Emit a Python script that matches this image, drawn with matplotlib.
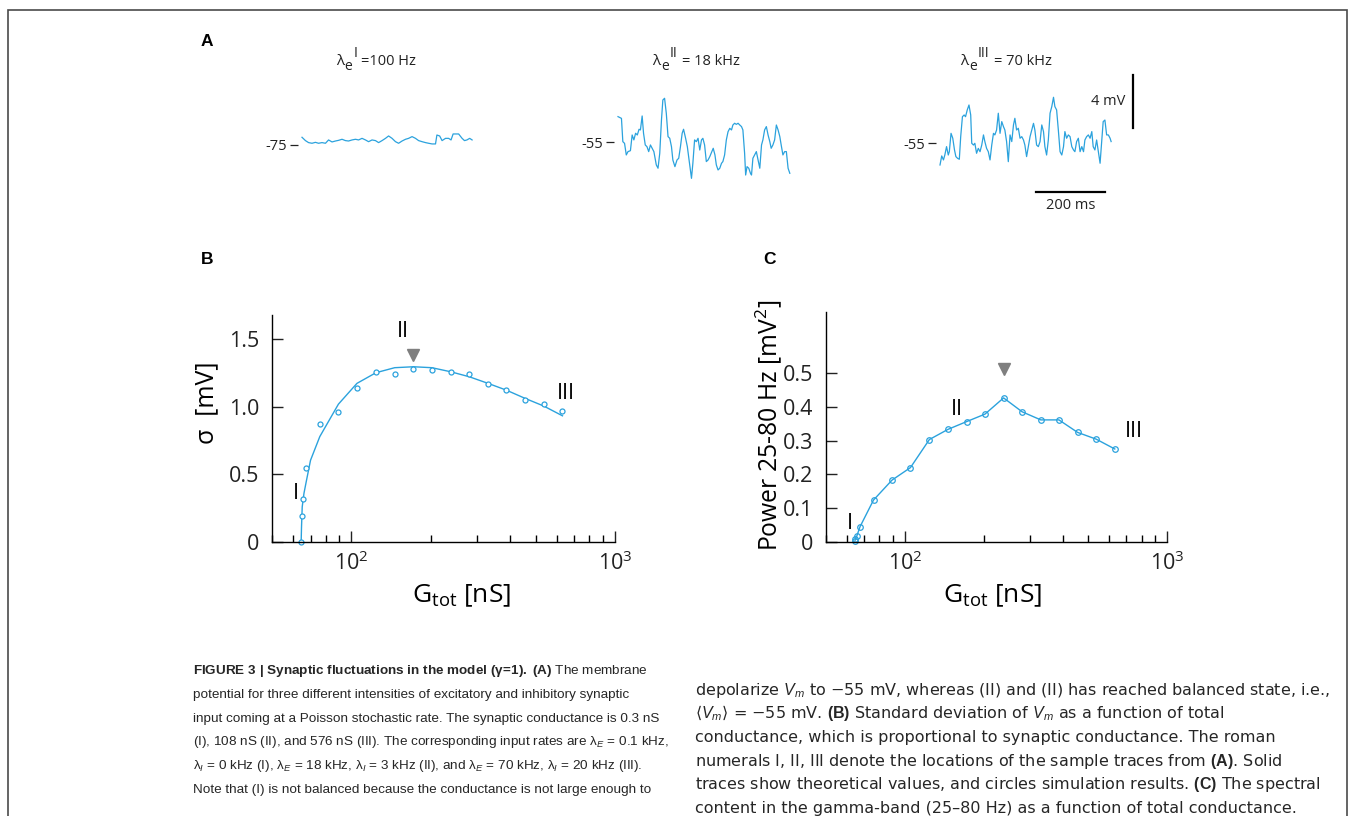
import matplotlib
matplotlib.use("Agg")
import matplotlib.pyplot as plt
import numpy as np
from matplotlib.patches import Rectangle

# ---- panel A: sample membrane potential traces (t in ms, Vm in mV) ----
trace1_t = [0, 10, 19, 29, 39, 48, 58, 68, 77, 87, 97, 106, 116, 126, 135, 145, 155, 164, 174, 184,
            193, 203, 213, 222, 232, 242, 251, 261, 271, 280, 290, 300, 309, 319, 329, 338, 348, 358, 367, 377,
            387, 391, 399, 406, 416, 425, 432, 438, 444, 454, 464, 471, 478, 486, 493]
trace1_v = [-74.42, -74.67, -74.82, -74.87, -74.80, -74.87, -74.82, -74.87, -74.62, -74.77,
            -74.70, -74.65, -74.57, -74.67, -74.70, -74.62, -74.57, -74.62, -74.50, -74.62,
            -74.75, -74.62, -74.67, -74.82, -74.67, -74.50, -74.32, -74.50, -74.75, -74.87,
            -74.70, -74.57, -74.50, -74.37, -74.50, -74.67, -74.75, -74.82, -74.87, -74.92,
            -74.92, -74.25, -74.32, -74.67, -74.50, -74.50, -74.62, -74.17, -74.17, -74.17,
            -74.50, -74.67, -74.62, -74.50, -74.62]

trace2_t = [0, 10, 14, 19, 24, 29, 36, 41, 46, 51, 56, 61, 65, 70, 74, 79, 84, 89, 94, 99,
            104, 111, 116, 121, 126, 130, 135, 140, 145, 150, 155, 159, 165, 171, 176, 181, 186, 190, 196, 201,
            206, 213, 217, 222, 227, 232, 237, 242, 246, 251, 256, 261, 266, 272, 276, 281, 285, 290, 295, 300,
            304, 309, 314, 319, 324, 329, 333, 338, 343, 348, 353, 358, 362, 367, 370, 374, 379, 384, 387, 391,
            396, 401, 406, 411, 416, 420, 425, 430, 435, 440, 444, 449, 454, 459, 464, 469, 473, 478, 483, 488,
            493, 498]
trace2_v = [-53.07, -53.20, -54.95, -55.08, -55.95, -55.70, -55.63, -54.45, -54.82, -54.32,
            -54.45, -54.02, -54.07, -53.02, -54.32, -55.20, -55.33, -55.70, -55.20, -55.45,
            -55.70, -56.70, -56.95, -55.83, -53.32, -51.82, -51.69, -52.82, -54.57, -54.70,
            -55.33, -56.33, -56.83, -56.33, -56.20, -55.33, -54.32, -54.02, -54.70, -55.33,
            -56.33, -57.71, -56.58, -54.82, -54.95, -54.70, -55.58, -54.82, -54.70, -55.20,
            -56.45, -56.33, -56.08, -55.70, -55.45, -55.95, -56.70, -57.08, -56.95, -56.58,
            -56.45, -55.95, -54.82, -54.20, -53.95, -54.07, -53.70, -53.57, -53.65, -53.57,
            -53.70, -53.82, -54.07, -55.83, -57.46, -56.83, -56.95, -57.33, -57.46, -56.20,
            -55.95, -55.70, -56.33, -56.95, -55.20, -54.82, -54.07, -53.82, -54.45, -54.95,
            -55.45, -55.20, -54.82, -53.70, -54.07, -54.57, -55.20, -55.95, -55.70, -55.70,
            -56.95, -57.33]

trace3_t = [0, 5, 10, 14, 19, 24, 27, 32, 37, 42, 46, 51, 56, 60, 65, 70, 74, 79, 84, 89,
            92, 97, 101, 106, 111, 116, 121, 126, 130, 135, 140, 145, 150, 155, 159, 164, 169, 174, 179, 184,
            188, 193, 198, 203, 208, 213, 217, 222, 227, 232, 237, 242, 246, 251, 256, 261, 266, 271, 275, 280,
            285, 290, 295, 300, 304, 309, 314, 319, 324, 329, 333, 338, 343, 348, 353, 358, 362, 367, 372, 377,
            382, 387, 391, 396, 401, 406, 411, 416, 420, 425, 430, 435, 440, 444, 449, 454, 459, 464, 469, 473,
            478, 483, 488, 493, 496]
trace3_v = [-56.63, -55.95, -56.25, -55.88, -55.25, -55.88, -55.63, -54.25, -54.62, -55.50,
            -56.00, -56.13, -56.20, -54.50, -53.00, -52.87, -53.00, -52.49, -52.12, -52.87,
            -55.00, -55.13, -55.00, -55.75, -55.38, -55.63, -55.13, -54.37, -54.87, -55.38,
            -55.63, -56.25, -55.13, -54.25, -54.37, -54.00, -52.74, -54.25, -53.37, -53.75,
            -54.00, -54.87, -56.38, -54.37, -54.87, -53.62, -53.12, -54.00, -53.87, -54.62,
            -54.50, -54.75, -55.13, -56.00, -55.25, -54.50, -54.00, -53.50, -54.00, -55.13,
            -55.25, -54.87, -53.62, -54.12, -55.25, -55.88, -54.75, -52.74, -52.24, -51.54,
            -52.24, -52.49, -54.00, -55.63, -55.88, -55.25, -54.12, -54.62, -54.37, -54.50,
            -55.25, -55.50, -55.63, -54.87, -54.62, -55.63, -55.25, -55.63, -54.75, -54.50,
            -54.37, -54.62, -54.12, -55.25, -55.50, -54.75, -55.63, -56.50, -54.75, -53.37,
            -53.25, -54.37, -54.37, -54.62, -54.87]

trace_numerals = ["I", "II", "III"]
trace_rates = ["=100 Hz", "= 18 kHz", "= 70 kHz"]
trace_bases = [-75, -55, -55]
trace_base_labels = ["-75", "-55", "-55"]

# ---- panels B and C: total conductance (nS) ----
g_sim = [64.5, 64.7, 65.5, 67.4, 75.9, 89.3, 105, 124, 146, 172, 202, 238, 280, 330, 387, 456, 537, 632]
sigma_sim = [0.0, 0.19, 0.32, 0.55, 0.87, 0.96, 1.14, 1.255, 1.245, 1.277, 1.273, 1.255, 1.243,
             1.166, 1.127, 1.05, 1.018, 0.971]
g_theory = [64.5, 64.7, 65.1, 66.1, 67.4, 70.0, 75.9, 89.3, 105, 124, 146, 172, 202, 238, 280,
            330, 387, 456, 537, 632]
sigma_theory = [0.0, 0.11, 0.26, 0.36, 0.445, 0.605, 0.78, 1.02, 1.174, 1.253, 1.29, 1.297, 1.29,
                1.26, 1.223, 1.174, 1.124, 1.063, 1.006, 0.934]
power_sim = [0.003, 0.01, 0.017, 0.045, 0.124, 0.183, 0.22, 0.303, 0.333, 0.356, 0.378, 0.426,
             0.385, 0.361, 0.361, 0.324, 0.304, 0.275]

caption_left = [
    r"$\mathbf{FIGURE\ 3\ |\ Synaptic\ fluctuations\ in\ the\ model\ (\gamma\!=\!1).\ (A)}$ The membrane",
    "potential for three different intensities of excitatory and inhibitory synaptic",
    "input coming at a Poisson stochastic rate. The synaptic conductance is 0.3 nS",
    r"(I), 108 nS (II), and 576 nS (III). The corresponding input rates are λ$_E$ = 0.1 kHz,",
    r"λ$_I$ = 0 kHz (I), λ$_E$ = 18 kHz, λ$_I$ = 3 kHz (II), and λ$_E$ = 70 kHz, λ$_I$ = 20 kHz (III).",
    "Note that (I) is not balanced because the conductance is not large enough to",
]
caption_right = [
    r"depolarize $V_m$ to −55 mV, whereas (II) and (II) has reached balanced state, i.e.,",
    r"⟨$V_m$⟩ = −55 mV. $\mathbf{(B)}$ Standard deviation of $V_m$ as a function of total",
    "conductance, which is proportional to synaptic conductance. The roman",
    r"numerals I, II, III denote the locations of the sample traces from $\mathbf{(A)}$. Solid",
    r"traces show theoretical values, and circles simulation results. $\mathbf{(C)}$ The spectral",
    "content in the gamma-band (25–80 Hz) as a function of total conductance.",
]

W, H = 1354, 816
BLUE = "#2ba2dd"
GRAY = "#7f7f7f"
INK = "#222222"
PX_PER_MV = 13.3
PX_PER_MS = 0.345

plt.rcParams["font.family"] = ["Open Sans", "DejaVu Sans"]
plt.rcParams["mathtext.fontset"] = "custom"
plt.rcParams["mathtext.rm"] = "Open Sans"
plt.rcParams["mathtext.it"] = "Liberation Sans:italic"
plt.rcParams["mathtext.bf"] = "Liberation Sans:bold"


def fx(px):
    return px / W


def fy(py):
    return 1 - py / H


def add_axes_px(left, top, right, bottom):
    return fig.add_axes([fx(left), fy(bottom), (right - left) / W, (bottom - top) / H])


fig = plt.figure(figsize=(W / 100, H / 100), dpi=100)
renderer = fig.canvas.get_renderer()


def text_px(x, y, s, **kw):
    t = fig.text(fx(x), fy(y), s, va="baseline", ha="left", color=INK, **kw)
    return t, t.get_window_extent(renderer).width


def rate_title(xc, y, numeral, rate):
    # lambda with subscript "e" and superscript roman numeral, then the rate
    t1, w1 = text_px(0, y, "λ", fontsize=11)
    t2, w2 = text_px(0, y + 5, "e", fontsize=10)
    t3, w3 = text_px(0, y - 8, numeral, fontsize=10)
    t4, w4 = text_px(0, y, rate, fontsize=10.5)
    gap = 4
    total = w1 + 0.5 + w2 + 1 + w3 + gap + w4
    x0 = xc - total / 2
    t1.set_x(fx(x0))
    t2.set_x(fx(x0 + w1 + 0.5))
    t3.set_x(fx(x0 + w1 + 0.5 + w2 + 1))
    t4.set_x(fx(x0 + w1 + 0.5 + w2 + 1 + w3 + gap))


# outer frame
fig.add_artist(Rectangle((fx(8), fy(840)), (1347 - 8) / W, 830 / H, transform=fig.transFigure,
                         fill=False, edgecolor="#4a4a4a", linewidth=1.2, clip_on=False))

# ---- panel A ----
trace_left = [302, 618, 940]
trace_base_px = [145, 142.3, 143.3]
title_x = [376, 696, 1006]
traces = [(trace1_t, trace1_v), (trace2_t, trace2_v), (trace3_t, trace3_v)]
top_px, bottom_px = 60, 205
trace_axes = []
for i, (t, v) in enumerate(traces):
    ax = add_axes_px(trace_left[i], top_px, trace_left[i] + 500 * PX_PER_MS, bottom_px)
    base = trace_bases[i]
    ax.set_xlim(0, 500)
    ax.set_ylim(base - (bottom_px - trace_base_px[i]) / PX_PER_MV,
                base + (trace_base_px[i] - top_px) / PX_PER_MV)
    ax.plot(t, v, color=BLUE, lw=0.9, clip_on=False)
    for s in ax.spines.values():
        s.set_visible(False)
    ax.spines["left"].set_position(("outward", 3))
    ax.set_xticks([])
    ax.set_yticks([base])
    ax.set_yticklabels([trace_base_labels[i]])
    ax.tick_params(axis="y", direction="out", length=6, width=0.9, pad=2, labelsize=10.5,
                   colors=INK)
    ax.patch.set_visible(False)
    trace_axes.append(ax)
    rate_title(title_x[i], 65, trace_numerals[i], trace_rates[i])

# scale bars on the last trace
ax3 = trace_axes[2]
bar_mv, bar_ms = 4, 200
vx = (1133 - trace_left[2]) / PX_PER_MS
vtop = -55 + (trace_base_px[2] - 75) / PX_PER_MV
ax3.plot([vx, vx], [vtop - bar_mv, vtop], color="black", lw=1.6, clip_on=False)
ax3.text(vx - 8 / PX_PER_MS, vtop - bar_mv / 2, "4 mV", ha="right", va="center", fontsize=10.5,
         color=INK, clip_on=False)
hx0 = (1036 - trace_left[2]) / PX_PER_MS
hy = -55 - (192 - trace_base_px[2]) / PX_PER_MV
ax3.plot([hx0, hx0 + bar_ms], [hy, hy], color="black", lw=1.6, clip_on=False)
ax3.text(hx0 + bar_ms / 2, hy - 6 / PX_PER_MV, "200 ms", ha="center", va="top", fontsize=10.5,
         color=INK, clip_on=False)

# panel letters
for letter, (x, y) in zip("ABC", [(207, 42), (207, 260), (769, 260)]):
    fig.text(fx(x), fy(y), letter, ha="center", va="center", fontsize=12.5, fontweight="bold",
             family="Liberation Sans")


def style_log_axes(ax):
    ax.set_xscale("log")
    ax.set_xlim(50, 1000)
    for side in ("top", "right"):
        ax.spines[side].set_visible(False)
    for side in ("left", "bottom"):
        ax.spines[side].set_linewidth(1.0)
    ax.tick_params(which="major", direction="in", length=8, width=1.0, labelsize=15.5, pad=7,
                   colors=INK)
    ax.tick_params(which="minor", direction="in", length=5, width=1.0)
    ax.tick_params(axis="y", pad=9)
    ax.set_xticks([100, 1000])
    ax.patch.set_visible(False)


# ---- panel B ----
axB = add_axes_px(272, 315, 615, 542)
style_log_axes(axB)
axB.set_ylim(0, 1.68)
axB.set_yticks([0, 0.5, 1.0, 1.5])
axB.set_yticklabels(["0", "0.5", "1.0", "1.5"])
axB.plot(g_theory, sigma_theory, color=BLUE, lw=1.0, clip_on=False)
axB.plot(g_sim, sigma_sim, "o", ms=3.6, mfc="white", mec=BLUE, mew=0.9, clip_on=False)
peak = int(np.argmax(sigma_theory))
axB.plot(g_theory[peak], sigma_theory[peak] + 0.087, "v", ms=8, color=GRAY, clip_on=False)
axB.text(61.4, 0.36, "I", ha="center", va="center", fontsize=15.5)
axB.text(157, 1.56, "II", ha="center", va="center", fontsize=15.5)
axB.text(649, 1.096, "III", ha="center", va="center", fontsize=15.5)
fig.text(fx(462), fy(596), r"G$_{\rm tot}$ [nS]", ha="center", va="center", fontsize=19)
fig.text(fx(207), fy(403), "σ  [mV]", ha="center", va="center", rotation=90, fontsize=18)

# ---- panel C ----
axC = add_axes_px(826, 312, 1167, 542)
style_log_axes(axC)
axC.set_ylim(0, 0.68)
axC.set_yticks([0, 0.1, 0.2, 0.3, 0.4, 0.5])
axC.set_yticklabels(["0", "0.1", "0.2", "0.3", "0.4", "0.5"])
axC.plot(g_sim, power_sim, "-o", color=BLUE, lw=1.0, ms=4, mfc="none", mec=BLUE, mew=0.9,
         clip_on=False)
peakc = int(np.argmax(power_sim))
axC.plot(g_sim[peakc], power_sim[peakc] + 0.086, "v", ms=8, color=GRAY, clip_on=False)
axC.text(61.8, 0.056, "I", ha="center", va="center", fontsize=15.5)
axC.text(158, 0.391, "II", ha="center", va="center", fontsize=15.5)
axC.text(749, 0.326, "III", ha="center", va="center", fontsize=15.5)
fig.text(fx(993), fy(596), r"G$_{\rm tot}$ [nS]", ha="center", va="center", fontsize=19)
fig.text(fx(769), fy(425), r"Power 25-80 Hz [mV$^2$]", ha="center", va="center", rotation=90,
         fontsize=17.8)

# ---- caption ----
left_y = [669, 693, 717, 740, 764, 788]
right_y = [690, 713, 737, 761, 784, 808]
for line, y in zip(caption_left, left_y):
    fig.text(fx(193), fy(y + 5), line, ha="left", va="baseline", fontsize=9.7,
             family=["Liberation Sans", "DejaVu Sans"], color="#262626")
for line, y in zip(caption_right, right_y):
    fig.text(fx(695), fy(y + 5), line, ha="left", va="baseline", fontsize=11.5,
             family=["DejaVu Sans"], color="#262626")

fig.savefig("out.png", dpi=100)
plt.close(fig)
